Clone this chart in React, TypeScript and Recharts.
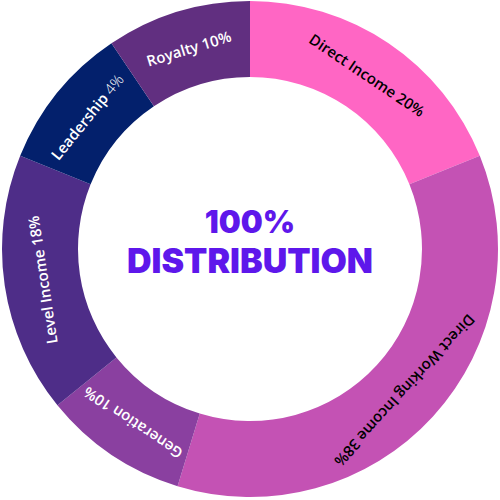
import React from 'react';
import { PieChart, Pie, Cell } from 'recharts';

// slice sizes as drawn in the picture (Leadership is drawn as large as Royalty)
const names = ['Direct Income', 'Direct Working Income', 'Generation', 'Level Income', 'Leadership', 'Royalty'];
const sliceValues = [20, 38, 10, 18, 10, 10];
const labelPercents = ['20%', '38%', '10%', '18%', '4%', '10%'];
const colors = ['#FF66C4', '#C452B4', '#8A40A0', '#4E2D88', '#03206C', '#612F80'];
const textColors = ['#000000', '#000000', '#ffffff', '#ffffff', '#ffffff', '#ffffff'];

const data = names.map((name, i) => ({ name, value: sliceValues[i], pct: labelPercents[i] }));

const RADIAN = Math.PI / 180;

const renderLabel = (props: any) => {
    const { cx, cy, midAngle, innerRadius, outerRadius, index } = props;
    const r = (innerRadius + outerRadius) / 2;
    const x = cx + r * Math.cos(-midAngle * RADIAN);
    const y = cy + r * Math.sin(-midAngle * RADIAN);
    const rot = 90 - midAngle;
    return (
        <text
            x={x}
            y={y}
            transform={`rotate(${rot}, ${x}, ${y})`}
            textAnchor="middle"
            dominantBaseline="central"
            fill={textColors[index]}
            fontFamily="Open Sans"
            fontWeight={600}
            fontSize={15}
        >
            {data[index].name}{' '}
            <tspan fontWeight={index === 4 ? 300 : 600}>{data[index].pct}</tspan>
        </text>
    );
};

export default function App() {
    return (
        <div style={{ position: 'absolute', left: 0, top: 0 }}>
            <PieChart width={500} height={500} margin={{ top: 0, right: 0, bottom: 0, left: 0 }}>
                <Pie
                    data={data}
                    dataKey="value"
                    cx={250}
                    cy={249}
                    innerRadius={172}
                    outerRadius={248}
                    startAngle={90}
                    endAngle={-270}
                    stroke="none"
                    label={renderLabel}
                    labelLine={false}
                    isAnimationActive={false}
                >
                    {data.map((d, i) => (
                        <Cell key={d.name} fill={colors[i]} />
                    ))}
                </Pie>
                <text x={250} y={221} textAnchor="middle" dominantBaseline="central"
                    fill="#5E17EB" fontFamily="Inter" fontWeight={900} fontSize={31}>
                    100%
                </text>
                <text x={250} y={260} textAnchor="middle" dominantBaseline="central"
                    fill="#5E17EB" fontFamily="Inter" fontWeight={900} fontSize={34}>
                    DISTRIBUTION
                </text>
            </PieChart>
        </div>
    );
}
